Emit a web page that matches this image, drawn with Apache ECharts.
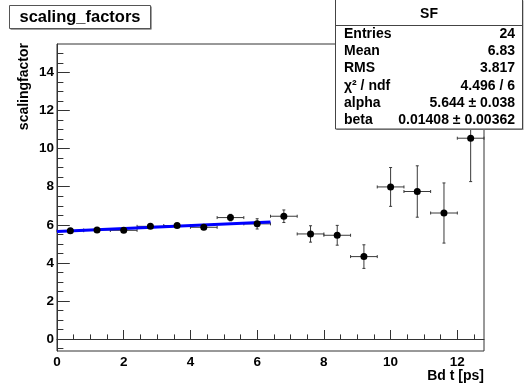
<!DOCTYPE html>
<html>
<head>
<meta charset="utf-8">
<script src="https://cdn.jsdelivr.net/npm/echarts@6/dist/echarts.min.js"></script>
<style>
html,body{margin:0;padding:0;background:#fff;}
#chart{width:525px;height:388px;}
</style>
</head>
<body>
<div id="chart"></div>
<script>
// ---- data ----
var binCenters   = [0.4, 1.2, 2.0, 2.8, 3.6, 4.4, 5.2, 6.0, 6.8, 7.6, 8.4, 9.2, 10.0, 10.8, 11.6, 12.4];
var binHalfWidth = [0.4, 0.4, 0.4, 0.4, 0.4, 0.4, 0.4, 0.4, 0.4, 0.4, 0.4, 0.4, 0.4, 0.4, 0.4, 0.4];
var sfValues     = [5.69, 5.73, 5.71, 5.92, 5.96, 5.87, 6.38, 6.05, 6.45, 5.52, 5.45, 4.33, 7.99, 7.75, 6.62, 10.55];
var sfErrors     = [0.08, 0.08, 0.09, 0.09, 0.10, 0.12, 0.17, 0.27, 0.33, 0.43, 0.52, 0.62, 1.02, 1.35, 1.58, 2.28];
var fitX = [0, 6.4];
var fitY = [5.644, 6.153];

var xMajorTicks = [0, 2, 4, 6, 8, 10, 12];
var xMinorTicks = [0.5, 1, 1.5, 2.5, 3, 3.5, 4.5, 5, 5.5, 6.5, 7, 7.5, 8.5, 9, 9.5, 10.5, 11, 11.5, 12.5];
var yMajorTicks = [0, 2, 4, 6, 8, 10, 12, 14];
var yMinorTicks = [-0.5, 0.5, 1, 1.5, 2.5, 3, 3.5, 4.5, 5, 5.5, 6.5, 7, 7.5, 8.5, 9, 9.5, 10.5, 11, 11.5, 12.5, 13, 13.5, 14.5, 15];

var statLabels = ['Entries', 'Mean', 'RMS', 'χ² / ndf', 'alpha', 'beta'];
var statValues = ['24', '6.83', '3.817', '4.496 / 6', '5.644 ± 0.038', '0.01408 ± 0.00362'];

var chartTitle = 'scaling_factors';
var statTitle = 'SF';
var xTitle = 'Bd t [ps]';
var yTitle = 'scalingfactor';

// ---- build ----
var FONT = '"Liberation Sans", Arial, Helvetica, sans-serif';
var pts = binCenters.map(function (x, i) { return [x, sfValues[i], binHalfWidth[i], sfErrors[i]]; });
var fitData = fitX.map(function (x, i) { return [x, fitY[i]]; });

var X_MIN = 0, X_MAX = 12.8, Y_MIN = -0.63, Y_MAX = 15.5;
var axisCol = '#333';

function xAxisDef(ticks, len, labels) {
  return {
    type: 'value', min: X_MIN, max: X_MAX, position: 'bottom', gridIndex: 0,
    axisLine: { show: labels, lineStyle: { color: axisCol, width: 1 } },
    axisTick: { show: true, inside: true, length: len, customValues: ticks, lineStyle: { color: axisCol, width: 1 } },
    axisLabel: labels ? { show: true, customValues: ticks, margin: 4, color: '#000', fontFamily: FONT, fontWeight: 'bold', fontSize: 13.5 } : { show: false },
    splitLine: { show: false }
  };
}
function yAxisDef(ticks, len, labels) {
  return {
    type: 'value', min: Y_MIN, max: Y_MAX, position: 'left', gridIndex: 0,
    axisLine: { show: labels, lineStyle: { color: axisCol, width: 1 } },
    axisTick: { show: true, inside: true, length: len, customValues: ticks, lineStyle: { color: axisCol, width: 1 } },
    axisLabel: labels ? { show: true, customValues: ticks, margin: 3, color: '#000', fontFamily: FONT, fontWeight: 'bold', fontSize: 13.5 } : { show: false },
    splitLine: { show: false }
  };
}

var chart = echarts.init(document.getElementById('chart'), null, { renderer: 'canvas' });

var graphics = [
  // title box
  { type: 'rect', shape: { x: 10.5, y: 6.5, width: 141, height: 23 }, style: { fill: '#444' }, z: 10 },
  { type: 'rect', shape: { x: 9.5, y: 5.5, width: 141, height: 23 }, style: { fill: '#fff', stroke: '#555', lineWidth: 1 }, z: 11 },
  { type: 'text', x: 80, y: 17, z: 12, style: { text: chartTitle, fill: '#000', font: 'bold 16.5px ' + FONT, textAlign: 'center', textVerticalAlign: 'middle' } },
  // stats box
  { type: 'rect', shape: { x: 336.5, y: 0.5, width: 187, height: 129.5 }, style: { fill: '#999' }, z: 10 },
  { type: 'rect', shape: { x: 335.5, y: -0.5, width: 187, height: 129.5 }, style: { fill: '#fff', stroke: '#444', lineWidth: 1 }, z: 11 },
  { type: 'line', shape: { x1: 335.5, y1: 25.5, x2: 522.5, y2: 25.5 }, style: { stroke: '#444', lineWidth: 1 }, z: 12 },
  { type: 'text', x: 429, y: 14.5, z: 12, style: { text: statTitle, fill: '#000', font: 'bold 14px ' + FONT, textAlign: 'center', textVerticalAlign: 'middle' } },
  // axis titles
  { type: 'text', x: 484, y: 376, z: 12, style: { text: xTitle, fill: '#000', font: 'bold 14px ' + FONT, textAlign: 'right', textVerticalAlign: 'middle' } },
  { type: 'text', x: 24, y: 43, rotation: Math.PI / 2, z: 12, style: { text: yTitle, fill: '#000', font: 'bold 14px ' + FONT, textAlign: 'right', textVerticalAlign: 'middle' } }
];
var statTop = 34, statStep = 17.3;
statLabels.forEach(function (lab, i) {
  graphics.push({
    type: 'text', x: 344, y: statTop + i * statStep, z: 13,
    style: { text: lab, fill: '#000', font: 'bold 14px ' + FONT, textAlign: 'left', textVerticalAlign: 'middle' }
  });
  graphics.push({
    type: 'text', x: 515, y: statTop + i * statStep, z: 13,
    style: { text: statValues[i], fill: '#000', font: 'bold 14px ' + FONT, textAlign: 'right', textVerticalAlign: 'middle' }
  });
});

var option = {
  backgroundColor: '#ffffff',
  animation: false,
  grid: { left: 57, right: 41, top: 44, bottom: 37, show: true, borderColor: axisCol, borderWidth: 1, backgroundColor: 'transparent' },
  xAxis: [xAxisDef(xMajorTicks, 9, true), xAxisDef(xMinorTicks, 4.6, false)],
  yAxis: [yAxisDef(yMajorTicks, 12.8, true), yAxisDef(yMinorTicks, 6.4, false)],
  series: [
    {
      type: 'custom', xAxisIndex: 0, yAxisIndex: 0, data: pts, z: 3,
      encode: { x: 0, y: 1 },
      renderItem: function (params, api) {
        var x = api.value(0), y = api.value(1), ex = api.value(2), ey = api.value(3);
        var l = api.coord([x - ex, y]), r = api.coord([x + ex, y]);
        var t = api.coord([x, y + ey]), b = api.coord([x, y - ey]);
        var c = 1.5;
        var st = { stroke: '#3a3a3a', lineWidth: 1, fill: null };
        return {
          type: 'group', children: [
            { type: 'line', shape: { x1: l[0], y1: l[1], x2: r[0], y2: r[1] }, style: st },
            { type: 'line', shape: { x1: l[0], y1: l[1] - c, x2: l[0], y2: l[1] + c }, style: st },
            { type: 'line', shape: { x1: r[0], y1: r[1] - c, x2: r[0], y2: r[1] + c }, style: st },
            { type: 'line', shape: { x1: t[0], y1: t[1], x2: b[0], y2: b[1] }, style: st },
            { type: 'line', shape: { x1: t[0] - c, y1: t[1], x2: t[0] + c, y2: t[1] }, style: st },
            { type: 'line', shape: { x1: b[0] - c, y1: b[1], x2: b[0] + c, y2: b[1] }, style: st }
          ]
        };
      }
    },
    {
      type: 'line', xAxisIndex: 0, yAxisIndex: 0, data: fitData, z: 4,
      showSymbol: false, symbol: 'none',
      lineStyle: { color: '#0000ff', width: 3 }
    },
    {
      type: 'scatter', xAxisIndex: 0, yAxisIndex: 0, z: 5,
      data: pts.map(function (p) { return [p[0], p[1]]; }),
      symbol: 'circle', symbolSize: 7,
      itemStyle: { color: '#000', opacity: 1 }
    }
  ],
  graphic: graphics
};
chart.setOption(option);
</script>
</body>
</html>
